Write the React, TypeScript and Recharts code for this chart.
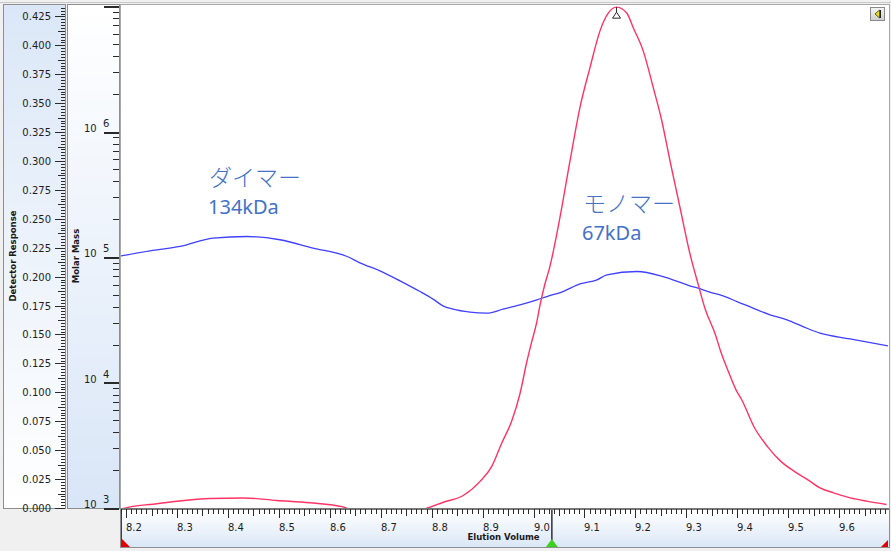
import React from 'react';
import { ComposedChart, Line, XAxis, YAxis, ReferenceDot, Label } from 'recharts';

// ---------- data ----------
const detVolume = [8.19, 8.208, 8.253, 8.3, 8.365, 8.43, 8.496, 8.561, 8.626, 8.645, 8.775, 8.7935, 8.823, 8.862, 8.895, 8.918, 8.9375, 8.957, 8.9735, 8.9866, 8.996, 9.006, 9.0125, 9.022, 9.032, 9.052, 9.0716, 9.091, 9.111, 9.1305, 9.147, 9.163, 9.183, 9.196, 9.2155, 9.235, 9.2517, 9.268, 9.2875, 9.307, 9.3235, 9.337, 9.357, 9.367, 9.3835, 9.3966, 9.41, 9.4325, 9.459, 9.4855, 9.512, 9.538, 9.5625, 9.589, 9.622, 9.654, 9.693];
const detResponse = [-0.001, 0.001, 0.0033, 0.0058, 0.0082, 0.0087, 0.0065, 0.0045, 0.001, -0.002, -0.002, 0.0002, 0.005, 0.0108, 0.023, 0.036, 0.056, 0.075, 0.099, 0.126, 0.143, 0.16, 0.175, 0.193, 0.2085, 0.2515, 0.3, 0.346, 0.381, 0.4125, 0.428, 0.433, 0.428, 0.415, 0.395, 0.3636, 0.335, 0.3, 0.26, 0.22, 0.193, 0.172, 0.15, 0.136, 0.117, 0.103, 0.0925, 0.0705, 0.0533, 0.0403, 0.0317, 0.0246, 0.0174, 0.0131, 0.0088, 0.0059, 0.003];

const mmVolume = [8.19, 8.247, 8.306, 8.371, 8.437, 8.502, 8.567, 8.634, 8.659, 8.6985, 8.7378, 8.7771, 8.8026, 8.8222, 8.8419, 8.8753, 8.9086, 8.94, 8.9734, 9.0068, 9.0264, 9.0578, 9.0912, 9.1246, 9.1442, 9.2031, 9.2542, 9.3013, 9.3327, 9.3524, 9.3661, 9.3995, 9.4309, 9.4643, 9.4977, 9.5291, 9.5625, 9.6214, 9.696];
const molarMass = [102000, 112000, 121300, 141500, 145700, 137200, 117800, 100900, 89900, 77600, 64600, 53070, 46170, 40820, 38420, 36360, 35700, 38420, 41570, 45580, 48420, 53070, 61000, 65800, 72100, 76620, 69900, 60020, 54750, 51540, 49900, 44180, 39130, 34590, 31570, 27920, 24730, 22270, 19590];

const xLabels = ['8.2', '8.3', '8.4', '8.5', '8.6', '8.7', '8.8', '8.9', '9.0', '9.1', '9.2', '9.3', '9.4', '9.5', '9.6'];
const detLabels = ['0.000', '0.025', '0.050', '0.075', '0.100', '0.125', '0.150', '0.175', '0.200', '0.225', '0.250', '0.275', '0.300', '0.325', '0.350', '0.375', '0.400', '0.425'];
const mmExponents = ['3', '4', '5', '6'];

const annotations = [
  { x: 8.3628, y: 0.2784, line1: 'ダイマー', line2: '134kDa' },
  { x: 9.0971, y: 0.2559, line1: 'モノマー', line2: '67kDa' },
];
const peakVolume = 9.163;
const peakResponse = 0.433;
const markerVolume = 9.036;

// ---------- derived ----------
const X_MIN = 8.19;
const X_MAX = 9.696;
const DET_MAX = 0.434;

const detData = detVolume.map((x, i) => ({ x, det: detResponse[i] }));
const mmData = mmVolume.map((x, i) => ({ x, mm: molarMass[i] }));

const xTicks: number[] = [];
for (let i = 819; i <= 969; i++) xTicks.push(i / 100);
const detTicks: number[] = [];
for (let i = 0; i <= 173; i++) detTicks.push((i * 25) / 10000);
const mmTicks: number[] = [];
for (let e = 3; e < 7; e++) for (let m = 1; m < 10; m++) mmTicks.push(m * Math.pow(10, e));
mmTicks.push(1e7);

const TICK_COLOR = '#2a2a2a';
const FONT = 'DejaVu Sans';

const XTick = (p: any) => {
  const v = p.payload.value;
  const i = Math.round(v * 100);
  const len = i % 10 === 0 ? 9 : i % 5 === 0 ? 7 : 5;
  const label = i % 10 === 0 ? xLabels.find((l) => Math.round(parseFloat(l) * 100) === i) : undefined;
  const x = Math.round(p.x) + 0.5;
  return (
    <g>
      <line x1={x} x2={x} y1={p.y + 1} y2={p.y + 1 + len} stroke={TICK_COLOR} strokeWidth={1} shapeRendering="crispEdges" />
      {label && (
        <text x={x - 0.5} y={p.y + 22.5} fontSize={10} fontFamily={FONT} fill="#1e1e1e" textAnchor="start">
          {label}
        </text>
      )}
    </g>
  );
};

const DetTick = (p: any) => {
  const v = p.payload.value;
  const i = Math.round(v * 400);
  const len = i % 10 === 0 ? 10 : i % 5 === 0 ? 7 : 4;
  const label = i % 10 === 0 ? detLabels[i / 10] : undefined;
  const y = Math.round(p.y) + 0.5;
  const xr = p.x;
  return (
    <g>
      <line x1={xr - len} x2={xr} y1={y} y2={y} stroke={TICK_COLOR} strokeWidth={1} shapeRendering="crispEdges" />
      {label && (
        <text x={xr - 14} y={y + 3.5} fontSize={10} fontFamily={FONT} fill="#1e1e1e" textAnchor="end">
          {label}
        </text>
      )}
    </g>
  );
};

const MmTick = (p: any) => {
  const v = p.payload.value;
  const e = Math.floor(Math.log10(v) + 1e-9);
  const m = Math.round(v / Math.pow(10, e));
  const major = m === 1;
  const len = major ? 15 : 6;
  const y = Math.round(p.y) + 0.5;
  const xr = p.x - 2;
  const exp = major ? mmExponents.find((s) => Number(s) === e) : undefined;
  return (
    <g>
      <line x1={xr - len} x2={xr} y1={y} y2={y} stroke={TICK_COLOR} strokeWidth={major ? 2 : 1} shapeRendering="crispEdges" />
      {exp && (
        <g>
          <text x={xr - 35} y={p.y} fontSize={10} fontFamily={FONT} fill="#1e1e1e">10</text>
          <text x={xr - 16} y={p.y - 5} fontSize={10} fontFamily={FONT} fill="#1e1e1e">{exp}</text>
        </g>
      )}
    </g>
  );
};

const VerticalTitle = (text: string, dx: number) => (props: any) => {
  const vb = props.viewBox || { x: 0, y: 0, width: 0, height: 0 };
  const x = vb.x + dx;
  const y = 256;
  return (
    <text x={x} y={y} transform={`rotate(-90 ${x} ${y})`} textAnchor="middle" fontSize={8.5} fontWeight="bold" fontFamily={FONT} fill="#1a1a1a">
      {text}
    </text>
  );
};

const XTitle = (props: any) => {
  const vb = props.viewBox || { x: 0, y: 0, width: 0, height: 0 };
  return (
    <text x={503.5} y={vb.y + 32} textAnchor="middle" fontSize={8.5} fontWeight="bold" fontFamily={FONT} fill="#1a1a1a">
      Elution Volume
    </text>
  );
};

const annotationShape = (a: { line1: string; line2: string }) => (p: any) => (
  <g>
    <text x={p.cx} y={p.cy} fontSize={23} fontWeight={300} fontFamily="Noto Sans CJK JP" fill="#4472c4">{a.line1}</text>
    <text x={p.cx - 1} y={p.cy + 28} fontSize={20} fontFamily="Noto Sans" fill="#4472c4">{a.line2}</text>
  </g>
);

const PeakShape = (p: any) => (
  <g stroke="#2a2a2a" strokeWidth={1} fill="none">
    <line x1={p.cx} x2={p.cx} y1={p.cy} y2={p.cy + 5} />
    <path d={`M${p.cx},${p.cy + 5} L${p.cx - 4},${p.cy + 11} L${p.cx + 4},${p.cy + 11} Z`} />
  </g>
);

const GreenMarker = (p: any) => (
  <g>
    <line x1={p.cx} x2={p.cx} y1={p.cy + 2} y2={p.cy + 32} stroke="#303030" strokeWidth={1.5} />
    <path d={`M${p.cx - 6},${p.cy + 39} L${p.cx},${p.cy + 31} L${p.cx + 6},${p.cy + 39} Z`} fill="#3fcf1f" />
  </g>
);

const LeftMarker = (p: any) => (
  <g>
    <line x1={p.cx + 0.5} x2={p.cx + 0.5} y1={p.cy + 3} y2={p.cy + 39} stroke="#404040" strokeWidth={1} />
    <path d={`M${p.cx},${p.cy + 30} L${p.cx},${p.cy + 39} L${p.cx + 9},${p.cy + 39} Z`} fill="#e00000" />
  </g>
);

const RightMarker = (p: any) => (
  <path d={`M${p.cx},${p.cy + 32} L${p.cx},${p.cy + 39} L${p.cx - 7},${p.cy + 39} Z`} fill="#e00000" />
);

export default function App() {
  return (
    <div style={{ position: 'absolute', left: 0, top: 0, width: 891, height: 551, background: '#f0f0f0', overflow: 'hidden' }}>
      <div style={{ position: 'absolute', left: 0, top: 2, width: 891, height: 1, background: '#c8c8c8' }} />
      <div style={{ position: 'absolute', boxSizing: 'border-box', left: 3, top: 4, width: 63, height: 505, background: 'linear-gradient(#dbe7f7, #ffffff)', border: '1px solid #8e8e8e' }} />
      <div style={{ position: 'absolute', boxSizing: 'border-box', left: 67, top: 4, width: 53, height: 505, background: 'linear-gradient(#ffffff, #d9e6f7)', border: '1px solid #8e8e8e' }} />
      <div style={{ position: 'absolute', boxSizing: 'border-box', left: 120, top: 4, width: 770, height: 506, background: '#ffffff', borderTop: '1px solid #a8a8a8', borderLeft: '1px solid #a8a8a8', borderRight: '1px solid #a8a8a8', borderBottom: '2px solid #777777' }} />
      <div style={{ position: 'absolute', boxSizing: 'border-box', left: 120, top: 510, width: 770, height: 38, background: 'linear-gradient(#ffffff, #dbe7f7)', borderLeft: '1px solid #8e8e8e', borderRight: '1px solid #8e8e8e', borderBottom: '1px solid #8e8e8e' }} />
      <div style={{ position: 'absolute', left: 0, top: 0 }}>
        <ComposedChart width={891} height={551} margin={{ top: 6, right: 3, bottom: 4, left: 0 }}>
          <XAxis
            xAxisId="v"
            dataKey="x"
            type="number"
            domain={[X_MIN, X_MAX]}
            allowDataOverflow
            ticks={xTicks}
            interval={0}
            height={39}
            tick={XTick}
            tickSize={0}
            tickMargin={0}
            tickLine={false}
            axisLine={false}
          >
            <Label content={XTitle} />
          </XAxis>
          <YAxis
            yAxisId="molar"
            type="number"
            scale="log"
            domain={[1000, 10000000]}
            allowDataOverflow
            ticks={mmTicks}
            interval={0}
            width={56}
            tick={MmTick}
            tickSize={0}
            tickMargin={0}
            tickLine={false}
            axisLine={false}
          >
            <Label content={VerticalTitle('Molar Mass', 14)} />
          </YAxis>
          <YAxis
            yAxisId="resp"
            type="number"
            domain={[0, DET_MAX]}
            allowDataOverflow
            ticks={detTicks}
            interval={0}
            width={65}
            tick={DetTick}
            tickSize={0}
            tickMargin={0}
            tickLine={false}
            axisLine={false}
          >
            <Label content={VerticalTitle('Detector Response', 16)} />
          </YAxis>
          <Line
            xAxisId="v"
            yAxisId="molar"
            data={mmData}
            dataKey="mm"
            type="monotone"
            stroke="#4040ff"
            strokeWidth={1.3}
            dot={false}
            activeDot={false}
            isAnimationActive={false}
          />
          <Line
            xAxisId="v"
            yAxisId="resp"
            data={detData}
            dataKey="det"
            type="monotone"
            stroke="#ff3366"
            strokeWidth={1.4}
            dot={false}
            activeDot={false}
            isAnimationActive={false}
          />
          {annotations.map((a, i) => (
            <ReferenceDot key={i} xAxisId="v" yAxisId="resp" x={a.x} y={a.y} r={0} ifOverflow="visible" shape={annotationShape(a)} />
          ))}
          <ReferenceDot xAxisId="v" yAxisId="resp" x={peakVolume} y={peakResponse} r={0} ifOverflow="visible" shape={PeakShape} />
          <ReferenceDot xAxisId="v" yAxisId="resp" x={markerVolume} y={0} r={0} ifOverflow="visible" shape={GreenMarker} />
          <ReferenceDot xAxisId="v" yAxisId="resp" x={X_MIN} y={0} r={0} ifOverflow="visible" shape={LeftMarker} />
          <ReferenceDot xAxisId="v" yAxisId="resp" x={X_MAX} y={0} r={0} ifOverflow="visible" shape={RightMarker} />
        </ComposedChart>
      </div>
      <div style={{ position: 'absolute', boxSizing: 'border-box', left: 870, top: 7, width: 15, height: 14, background: 'linear-gradient(#f4f4f4, #cfcfcf)', border: '1px solid #8a8a8a' }}>
        <svg width={13} height={12} style={{ position: 'absolute', left: 0, top: 0 }}>
          <path d="M4,6 L8.5,2 L8.5,10 Z" fill="#f0e000" stroke="#333" strokeWidth={0.8} />
          <line x1={9.5} x2={9.5} y1={2} y2={10} stroke="#222" strokeWidth={1} />
        </svg>
      </div>
    </div>
  );
}
